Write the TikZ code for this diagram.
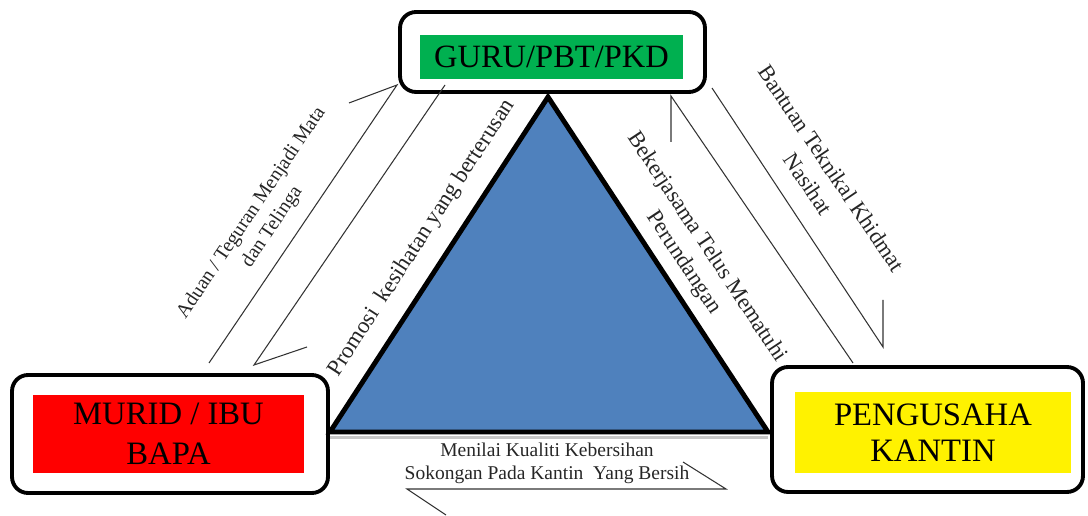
\documentclass[tikz,border=0pt]{standalone}
\usepackage{fontspec}
\setmainfont{Liberation Serif}
\definecolor{guru}{HTML}{00B050}
\definecolor{tri}{HTML}{4F81BD}

\begin{document}
\begin{tikzpicture}[x=0.02cm, y=-0.02cm,
    outer/.style={draw, line width=2.2pt, rounded corners=0.32cm, fill=white},
    inner/.style={align=center, inner sep=0pt, font=\fontsize{18.5}{21}\selectfont},
    flow/.style={line width=0.6pt, black!80},
    note/.style={align=center, inner sep=0pt, text=black!85}]
  \useasboundingbox (0,0) rectangle (1088,516);

  % the three parties
  \node[outer, minimum width=6.1cm, minimum height=1.6cm] (guru) at (552.5,52) {};
  \node[inner, fill=guru, minimum width=5.26cm, minimum height=0.88cm] (gurutext) at (551.5,57) {GURU/PBT/PKD};
  \node[outer, minimum width=6.32cm, minimum height=2.36cm] (murid) at (170,434) {};
  \node[inner, fill=red, minimum width=5.42cm, minimum height=1.56cm, font=\fontsize{18.6}{22.7}\selectfont] (muridtext) at (168.5,434) {MURID / IBU\\BAPA};
  \node[outer, minimum width=6.22cm, minimum height=2.5cm] (kantin) at (927.5,429.5) {};
  \node[inner, fill=yellow, minimum width=5.52cm, minimum height=1.62cm, font=\fontsize{18.6}{20.4}\selectfont] (kantintext) at (933,432.5) {PENGUSAHA\\KANTIN};

  % triangle
  \coordinate (apex) at (548,97);
  \coordinate (bl) at (330,432);
  \coordinate (br) at (768,432);
  \draw[gray!45, line width=2pt] ([yshift=-0.11cm]bl) -- ([yshift=-0.11cm]br);
  \draw[fill=tri, line width=2.8pt, line join=miter] (apex) -- (bl) -- (br) -- cycle;

  % connectors
  \coordinate (a1) at (209,363); \coordinate (a2) at (397,85); \coordinate (a3) at (349,103);
  \coordinate (b1) at (445,85); \coordinate (b2) at (254,365); \coordinate (b3) at (307,347);
  \coordinate (c1) at (853,363); \coordinate (c2) at (671,96); \coordinate (c3) at (671,142);
  \coordinate (d1) at (712,88); \coordinate (d2) at (883,347); \coordinate (d3) at (883,300);
  \coordinate (e3) at (683,462); \coordinate (e2) at (726,489); \coordinate (e1) at (407,489); \coordinate (e0) at (446,515);
  \draw[flow] (a1) -- (a2) -- (a3);
  \draw[flow] (b1) -- (b2) -- (b3);
  \draw[flow] (c1) -- (c2) -- (c3);
  \draw[flow] (d1) -- (d2) -- (d3);
  \draw[flow] (e3) -- (e2) -- (e1) -- (e0);

  % labels
  \node[note, rotate=56, font=\fontsize{11.3}{14.2}\selectfont] (aduan) at (262,220) {Aduan / Teguran Menjadi Mata\\dan Telinga};
  \node[note, rotate=57, font=\fontsize{13}{15}\selectfont] (promosi) at (422,238) {Promosi\ \ kesihatan yang berterusan};
  \node[note, rotate=-56.5, font=\fontsize{12.9}{15.9}\selectfont] (bekerja) at (695,255) {Bekerjasama Telus Mematuhi\\Perundangan};
  \node[note, rotate=-56, font=\fontsize{12.8}{15.9}\selectfont] (bantuan) at (820,176) {Bantuan Teknikal Khidmat\\Nasihat};
  \node[note, font=\fontsize{11.1}{13}\selectfont] (menilai) at (547,463.5) {Menilai Kualiti Kebersihan\\Sokongan Pada Kantin\ \ Yang Bersih};
\end{tikzpicture}
\end{document}
